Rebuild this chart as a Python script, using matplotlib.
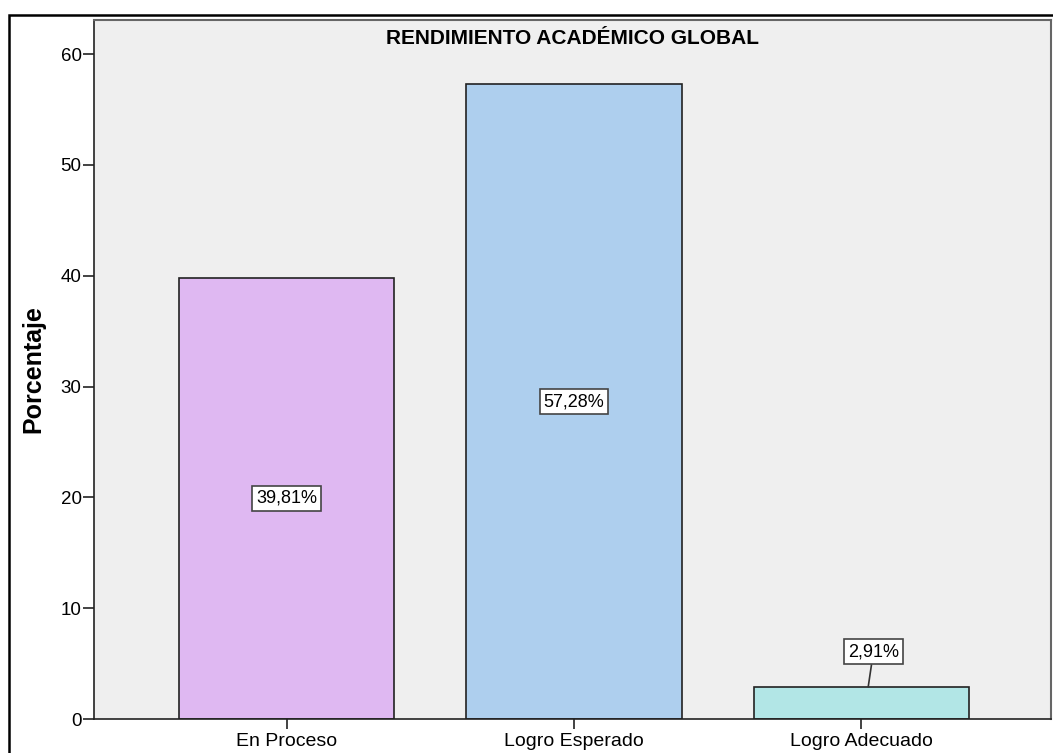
import matplotlib.pyplot as plt
from matplotlib.patches import Rectangle

plt.rcParams['font.family'] = ['Liberation Sans', 'DejaVu Sans']

categorias = ['En Proceso', 'Logro Esperado', 'Logro Adecuado']
porcentajes = [39.81, 57.28, 2.91]
colores = ['#DFB8F2', '#AECFEE', '#B2E6E6']

fig = plt.figure(figsize=(10.53, 7.53), dpi=100)
ax = fig.add_axes([94/1053, 1 - 719/753, (1051-94)/1053, (719-20)/753])
ax.set_facecolor('#EFEFEF')

x = range(len(categorias))
ax.bar(x, porcentajes, width=0.75, color=colores, edgecolor='#222222', linewidth=1.2, zorder=2)

ax.set_xlim(-0.67, 2.66)
ax.set_ylim(0, 63.07)
ax.set_xticks(list(x))
ax.set_xticklabels(categorias, fontsize=14)
ax.set_yticks([0, 10, 20, 30, 40, 50, 60])
ax.tick_params(axis='y', labelsize=13.5, length=8, width=1.2, color='#222222', pad=1)
ax.tick_params(axis='x', length=7, width=1.2, color='#222222', pad=3)
ax.set_ylabel('Porcentaje', fontsize=18, fontweight='bold', labelpad=11)

for s in ['left', 'bottom']:
    ax.spines[s].set_color('#222222')
    ax.spines[s].set_linewidth(1.2)
for s in ['top', 'right']:
    ax.spines[s].set_color('#666666')
    ax.spines[s].set_linewidth(1.5)

caja = dict(boxstyle='square,pad=0.22', fc='white', ec='#444444', lw=1.2)
for i, v in enumerate(porcentajes):
    txt = f'{v:.2f}'.replace('.', ',') + '%'
    if v > 10:
        ax.text(i, v / 2, txt, ha='center', va='center', fontsize=13, bbox=caja, zorder=4)
    else:
        ax.annotate(txt, xy=(i + 0.024, v), xytext=(i + 0.042, v + 3.15),
                    ha='center', va='center', fontsize=13, bbox=caja, zorder=4,
                    arrowprops=dict(arrowstyle='-', color='#333333', lw=1.2,
                                    shrinkA=0, shrinkB=0))

ax.text(0.5, 1 - 18/699, 'RENDIMIENTO ACADÉMICO GLOBAL', transform=ax.transAxes,
        ha='center', va='center', fontsize=15, fontweight='bold')

# marco exterior
fig.patches.append(Rectangle((9/1053, -0.1), 1.2, 1 - 15/753 + 0.1, transform=fig.transFigure,
                             fill=False, ec='black', lw=1.8, clip_on=False))

fig.savefig('out.png', dpi=100)
